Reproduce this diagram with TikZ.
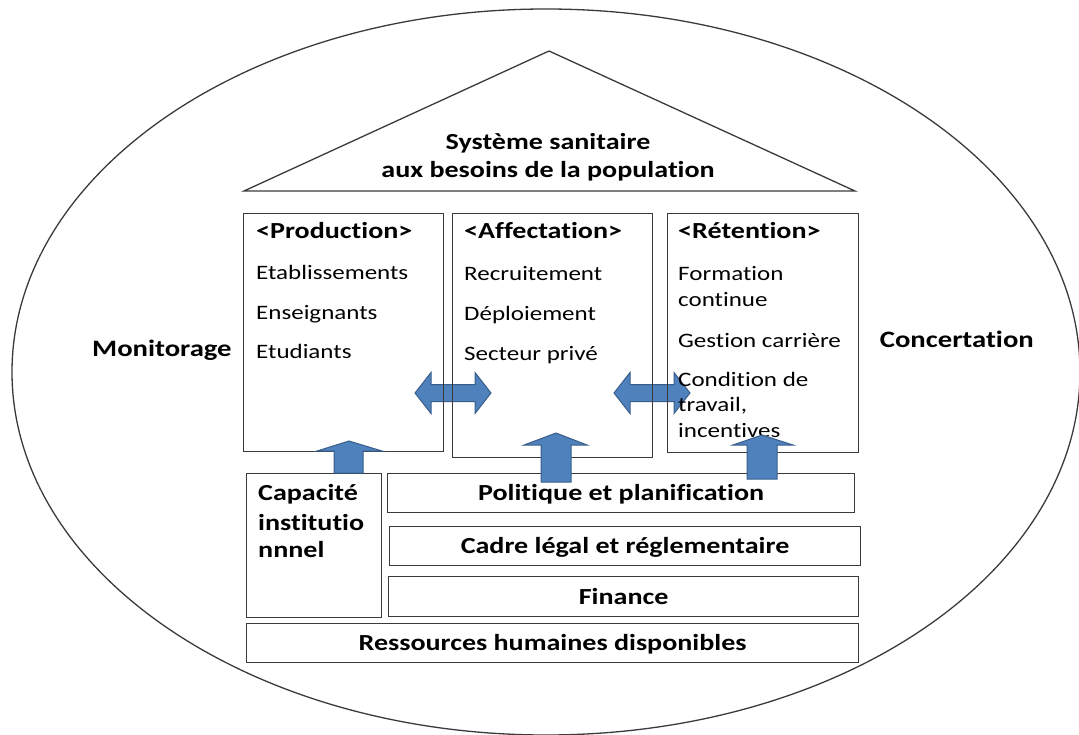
\documentclass[tikz,border=0pt]{standalone}
\usepackage{fontspec}
\setmainfont{Carlito}[FakeStretch=1.22, Ligatures={NoCommon}]
\newcommand\bodytext{\fontsize{20.5}{24}\selectfont}
\newcommand\headtext{\fontsize{23}{26}\selectfont\bfseries}
\newcommand\labeltext{\fontsize{23}{28}\selectfont\bfseries}
\newcommand\sidetext{\fontsize{23.5}{28}\selectfont\bfseries}
\definecolor{arrowfill}{HTML}{4F81BD}
\definecolor{arrowline}{HTML}{385D8A}
\definecolor{inkline}{HTML}{3A3A3A}
\begin{document}
\begin{tikzpicture}[x=1pt,y=-1pt,
  outline/.style={draw=inkline, line width=1.3pt},
  frame/.style={draw=inkline, line width=1.2pt, inner sep=0pt, anchor=north west},
  layer/.style={frame, font=\labeltext, text height=19pt, text depth=4pt},
  arrowshape/.style={fill=arrowfill, draw=arrowline, line width=1pt, line join=miter},
  item/.style={inner sep=0pt, anchor=base west, font=\bodytext},
  head/.style={inner sep=0pt, anchor=base west, font=\headtext},
  label/.style={inner sep=0pt, anchor=base, font=\labeltext},
  pics/twoway/.style={code={
    \draw[arrowshape] (0,0) -- (16,-20.5) -- (16,-8.5) -- (60,-8.5) -- (60,-20.5)
      -- (76,0) -- (60,20.5) -- (60,8.5) -- (16,8.5) -- (16,20.5) -- cycle;}}]
\useasboundingbox (0,0) rectangle (1079,735);

% surrounding environment
\draw[outline] (546,372) ellipse [x radius=534, y radius=363];
\node[inner sep=0pt, anchor=base west, font=\sidetext] (monit) at (92,356) {Monitorage};
\node[inner sep=0pt, anchor=base east, font=\sidetext] (concert) at (1034,348) {Concertation};

% roof
\coordinate (roofL) at (244,191);
\coordinate (apex) at (549,51);
\coordinate (roofR) at (855,191);
\draw[outline, line join=miter] (roofL) -- (apex) -- (roofR) -- cycle;
\node[label] (goal1) at (548,150) {Système sanitaire};
\node[label] (goal2) at (548,178) {aux besoins de la population};

% exchanges between the pillars
\pic at (415,393) {twoway};
\pic at (614,393) {twoway};

% pillars
\node[frame, minimum width=200pt, minimum height=238pt] (prod) at (243,213) {};
\node[frame, minimum width=200pt, minimum height=244pt] (aff) at (452,213) {};
\node[frame, minimum width=191pt, minimum height=239pt] (ret) at (667,213) {};

\node[head] (prodH) at (256,239) {<Production>};
\node[item] (prod1) at (256,280) {Etablissements};
\node[item] (prod2) at (256,319.5) {Enseignants};
\node[item] (prod3) at (256,359) {Etudiants};

\node[head] (affH) at (464,239) {<Affectation>};
\node[item] (aff1) at (464,280.5) {Recruitement};
\node[item] (aff2) at (464,320) {Déploiement};
\node[item] (aff3) at (464,360) {Secteur privé};

\node[head] (retH) at (678,239) {<Rétention>};
\node[item] (ret1) at (678,280.5) {Formation};
\node[item] (ret2) at (678,307) {continue};
\node[item] (ret3) at (678,347) {Gestion carrière};
\node[item] (ret4) at (678,386.5) {Condition de};
\node[item] (ret5) at (678,411.5) {travail,};
\node[item] (ret6) at (678,437) {incentives};

% foundations
\node[frame, minimum width=135pt, minimum height=144pt] (capa) at (246,473) {};
\node[inner sep=0pt, anchor=base west, font=\labeltext] (capa1) at (258,500) {Capacité};
\node[inner sep=0pt, anchor=base west, font=\labeltext] (capa2) at (258,530) {institutio};
\node[inner sep=0pt, anchor=base west, font=\labeltext] (capa3) at (258,557) {nnnel};

\node[layer, minimum width=467pt, minimum height=39pt] (pol) at (387,473) {Politique et planification};
\node[layer, minimum width=471pt, minimum height=39pt] (cadre) at (389,526) {Cadre légal et réglementaire};
\node[layer, minimum width=470pt, minimum height=40pt] (fin) at (388,576) {Finance};
\node[layer, minimum width=612pt, minimum height=39pt] (rh) at (246,623) {Ressources humaines disponibles};

% support arrows
\draw[arrowshape] (334,473) -- (334,451) -- (317,451) -- (349,441) -- (382,451)
  -- (363,451) -- (363,473) -- cycle;
\draw[arrowshape] (541,482) -- (541,445) -- (524,445) -- (556,433) -- (587,445)
  -- (571,445) -- (571,482) -- cycle;
\draw[arrowshape] (747,479) -- (747,445) -- (733,445) -- (762,435) -- (793,445)
  -- (777,445) -- (777,479) -- cycle;
\end{tikzpicture}
\end{document}
